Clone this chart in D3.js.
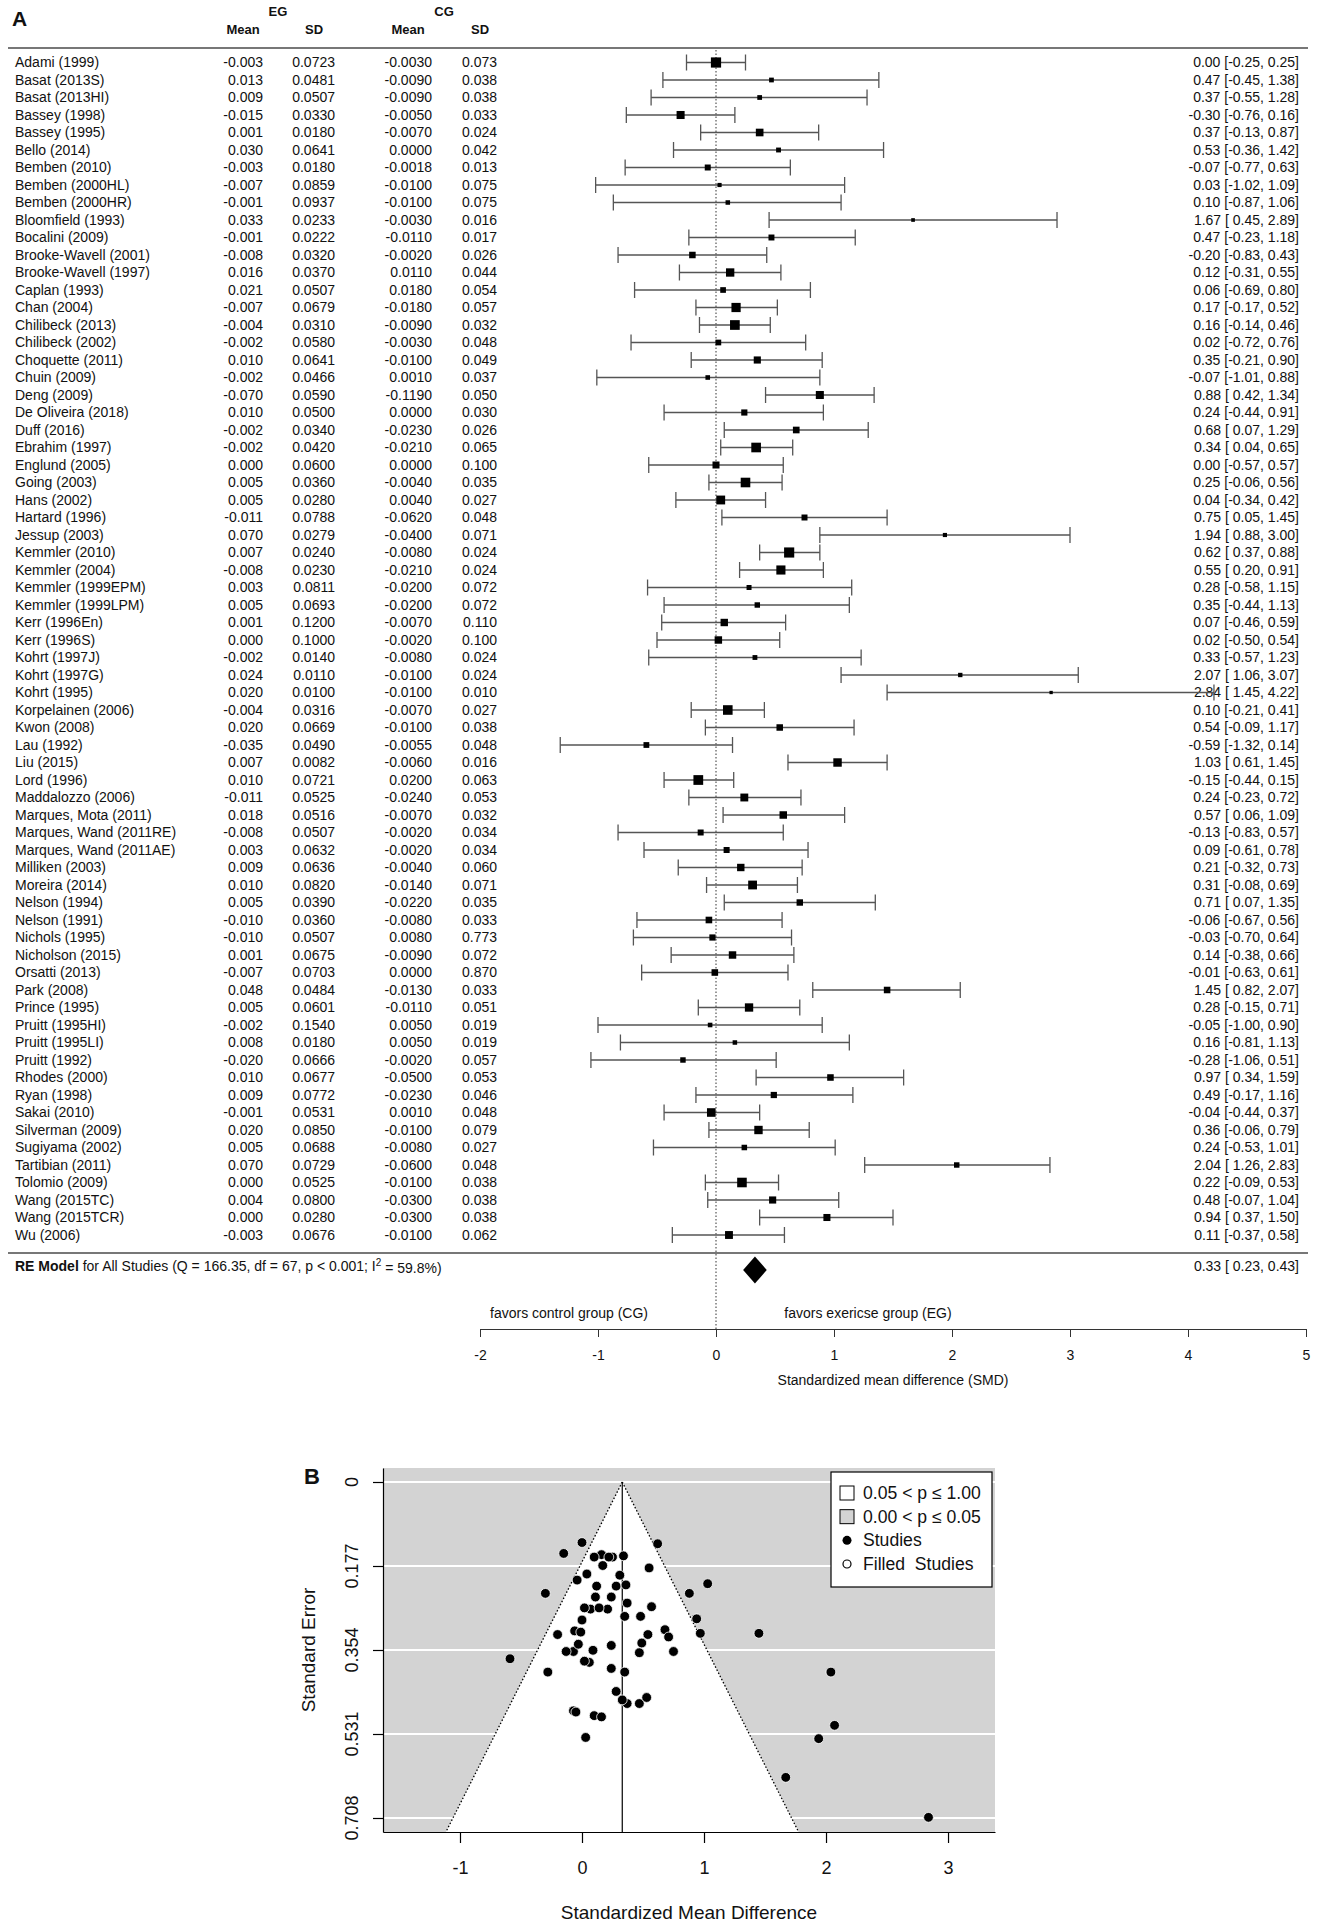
<!DOCTYPE html>
<html>
<head>
<meta charset="utf-8">
<script src="https://cdn.jsdelivr.net/npm/d3@7"></script>
<style>
	body { margin: 0; background: #fff; }
	text { font-family: "Liberation Sans", Arial, sans-serif; fill: #111; }
</style>
</head>
<body>
<div id="vis"></div>
<script>
const studies = [
	"Adami (1999)", "Basat (2013S)", "Basat (2013HI)", "Bassey (1998)", "Bassey (1995)",
	"Bello (2014)", "Bemben (2010)", "Bemben (2000HL)", "Bemben (2000HR)", "Bloomfield (1993)",
	"Bocalini (2009)", "Brooke-Wavell (2001)", "Brooke-Wavell (1997)", "Caplan (1993)", "Chan (2004)",
	"Chilibeck (2013)", "Chilibeck (2002)", "Choquette (2011)", "Chuin (2009)", "Deng (2009)",
	"De Oliveira (2018)", "Duff (2016)", "Ebrahim (1997)", "Englund (2005)", "Going (2003)",
	"Hans (2002)", "Hartard (1996)", "Jessup (2003)", "Kemmler (2010)", "Kemmler (2004)",
	"Kemmler (1999EPM)", "Kemmler (1999LPM)", "Kerr (1996En)", "Kerr (1996S)", "Kohrt (1997J)",
	"Kohrt (1997G)", "Kohrt (1995)", "Korpelainen (2006)", "Kwon (2008)", "Lau (1992)",
	"Liu (2015)", "Lord (1996)", "Maddalozzo (2006)", "Marques, Mota (2011)", "Marques, Wand (2011RE)",
	"Marques, Wand (2011AE)", "Milliken (2003)", "Moreira (2014)", "Nelson (1994)", "Nelson (1991)",
	"Nichols (1995)", "Nicholson (2015)", "Orsatti (2013)", "Park (2008)", "Prince (1995)",
	"Pruitt (1995HI)", "Pruitt (1995LI)", "Pruitt (1992)", "Rhodes (2000)", "Ryan (1998)",
	"Sakai (2010)", "Silverman (2009)", "Sugiyama (2002)", "Tartibian (2011)", "Tolomio (2009)",
	"Wang (2015TC)", "Wang (2015TCR)", "Wu (2006)"
];

const egMean = [
	-0.003, 0.013, 0.009, -0.015, 0.001, 0.030, -0.003, -0.007, -0.001, 0.033,
	-0.001, -0.008, 0.016, 0.021, -0.007, -0.004, -0.002, 0.010, -0.002, -0.070,
	0.010, -0.002, -0.002, 0.000, 0.005, 0.005, -0.011, 0.070, 0.007, -0.008,
	0.003, 0.005, 0.001, 0.000, -0.002, 0.024, 0.020, -0.004, 0.020, -0.035,
	0.007, 0.010, -0.011, 0.018, -0.008, 0.003, 0.009, 0.010, 0.005, -0.010,
	-0.010, 0.001, -0.007, 0.048, 0.005, -0.002, 0.008, -0.020, 0.010, 0.009,
	-0.001, 0.020, 0.005, 0.070, 0.000, 0.004, 0.000, -0.003
];
const egSD = [
	0.0723, 0.0481, 0.0507, 0.0330, 0.0180, 0.0641, 0.0180, 0.0859, 0.0937, 0.0233,
	0.0222, 0.0320, 0.0370, 0.0507, 0.0679, 0.0310, 0.0580, 0.0641, 0.0466, 0.0590,
	0.0500, 0.0340, 0.0420, 0.0600, 0.0360, 0.0280, 0.0788, 0.0279, 0.0240, 0.0230,
	0.0811, 0.0693, 0.1200, 0.1000, 0.0140, 0.0110, 0.0100, 0.0316, 0.0669, 0.0490,
	0.0082, 0.0721, 0.0525, 0.0516, 0.0507, 0.0632, 0.0636, 0.0820, 0.0390, 0.0360,
	0.0507, 0.0675, 0.0703, 0.0484, 0.0601, 0.1540, 0.0180, 0.0666, 0.0677, 0.0772,
	0.0531, 0.0850, 0.0688, 0.0729, 0.0525, 0.0800, 0.0280, 0.0676
];
const cgMean = [
	-0.0030, -0.0090, -0.0090, -0.0050, -0.0070, 0.0000, -0.0018, -0.0100, -0.0100, -0.0030,
	-0.0110, -0.0020, 0.0110, 0.0180, -0.0180, -0.0090, -0.0030, -0.0100, 0.0010, -0.1190,
	0.0000, -0.0230, -0.0210, 0.0000, -0.0040, 0.0040, -0.0620, -0.0400, -0.0080, -0.0210,
	-0.0200, -0.0200, -0.0070, -0.0020, -0.0080, -0.0100, -0.0100, -0.0070, -0.0100, -0.0055,
	-0.0060, 0.0200, -0.0240, -0.0070, -0.0020, -0.0020, -0.0040, -0.0140, -0.0220, -0.0080,
	0.0080, -0.0090, 0.0000, -0.0130, -0.0110, 0.0050, 0.0050, -0.0020, -0.0500, -0.0230,
	0.0010, -0.0100, -0.0080, -0.0600, -0.0100, -0.0300, -0.0300, -0.0100
];
const cgSD = [
	0.073, 0.038, 0.038, 0.033, 0.024, 0.042, 0.013, 0.075, 0.075, 0.016,
	0.017, 0.026, 0.044, 0.054, 0.057, 0.032, 0.048, 0.049, 0.037, 0.050,
	0.030, 0.026, 0.065, 0.100, 0.035, 0.027, 0.048, 0.071, 0.024, 0.024,
	0.072, 0.072, 0.110, 0.100, 0.024, 0.024, 0.010, 0.027, 0.038, 0.048,
	0.016, 0.063, 0.053, 0.032, 0.034, 0.034, 0.060, 0.071, 0.035, 0.033,
	0.773, 0.072, 0.870, 0.033, 0.051, 0.019, 0.019, 0.057, 0.053, 0.046,
	0.048, 0.079, 0.027, 0.048, 0.038, 0.038, 0.038, 0.062
];
const smd = [
	0.00, 0.47, 0.37, -0.30, 0.37, 0.53, -0.07, 0.03, 0.10, 1.67,
	0.47, -0.20, 0.12, 0.06, 0.17, 0.16, 0.02, 0.35, -0.07, 0.88,
	0.24, 0.68, 0.34, 0.00, 0.25, 0.04, 0.75, 1.94, 0.62, 0.55,
	0.28, 0.35, 0.07, 0.02, 0.33, 2.07, 2.84, 0.10, 0.54, -0.59,
	1.03, -0.15, 0.24, 0.57, -0.13, 0.09, 0.21, 0.31, 0.71, -0.06,
	-0.03, 0.14, -0.01, 1.45, 0.28, -0.05, 0.16, -0.28, 0.97, 0.49,
	-0.04, 0.36, 0.24, 2.04, 0.22, 0.48, 0.94, 0.11
];
const ciLower = [
	-0.25, -0.45, -0.55, -0.76, -0.13, -0.36, -0.77, -1.02, -0.87, 0.45,
	-0.23, -0.83, -0.31, -0.69, -0.17, -0.14, -0.72, -0.21, -1.01, 0.42,
	-0.44, 0.07, 0.04, -0.57, -0.06, -0.34, 0.05, 0.88, 0.37, 0.20,
	-0.58, -0.44, -0.46, -0.50, -0.57, 1.06, 1.45, -0.21, -0.09, -1.32,
	0.61, -0.44, -0.23, 0.06, -0.83, -0.61, -0.32, -0.08, 0.07, -0.67,
	-0.70, -0.38, -0.63, 0.82, -0.15, -1.00, -0.81, -1.06, 0.34, -0.17,
	-0.44, -0.06, -0.53, 1.26, -0.09, -0.07, 0.37, -0.37
];
const ciUpper = [
	0.25, 1.38, 1.28, 0.16, 0.87, 1.42, 0.63, 1.09, 1.06, 2.89,
	1.18, 0.43, 0.55, 0.80, 0.52, 0.46, 0.76, 0.90, 0.88, 1.34,
	0.91, 1.29, 0.65, 0.57, 0.56, 0.42, 1.45, 3.00, 0.88, 0.91,
	1.15, 1.13, 0.59, 0.54, 1.23, 3.07, 4.22, 0.41, 1.17, 0.14,
	1.45, 0.15, 0.72, 1.09, 0.57, 0.78, 0.73, 0.69, 1.35, 0.56,
	0.64, 0.66, 0.61, 2.07, 0.71, 0.90, 1.13, 0.51, 1.59, 1.16,
	0.37, 0.79, 1.01, 2.83, 0.53, 1.04, 1.50, 0.58
];

const pooledEst = 0.33;
const pooledCI = [0.23, 0.43];
const forestTicks = [-2, -1, 0, 1, 2, 3, 4, 5];
const seTicks = [0, 0.177, 0.354, 0.531, 0.708];
const seTickLabels = ["0", "0.177", "0.354", "0.531", "0.708"];
const funnelTicks = [-1, 0, 1, 2, 3];
const legendLabels = ["0.05 < p \u2264 1.00", "0.00 < p \u2264 0.05", "Studies", "Filled  Studies"];

const W = 1318, H = 1924;
const FONT = "14px";

const main = () => {
	const svg = d3.select("#vis").append("svg")
		.attr("width", W)
		.attr("height", H);
	svg.append("rect").attr("width", W).attr("height", H).attr("fill", "#fff");
	drawForest(svg);
	drawFunnel(svg);
};

const ciText = (e, lo, hi) => {
	const l = lo < 0 ? lo.toFixed(2) : " " + lo.toFixed(2);
	return `${e.toFixed(2)} [${l}, ${hi.toFixed(2)}]`;
};

const drawForest = (svg) => {
	const n = studies.length;
	const x = d3.scaleLinear().domain([-2, 5]).range([480, 1306]);
	const y = d3.scalePoint().domain(d3.range(n)).range([62.5, 1235]);

	// study weights (random effects) for square sizes
	const se = ciLower.map((lo, i) => (ciUpper[i] - lo) / (2 * 1.96));
	const wf = se.map(s => 1 / (s * s));
	const sw = d3.sum(wf);
	const ybar = d3.sum(wf.map((w, i) => w * smd[i])) / sw;
	const Q = d3.sum(wf.map((w, i) => w * (smd[i] - ybar) ** 2));
	const tau2 = Math.max(0, (Q - (n - 1)) / (sw - d3.sum(wf.map(w => w * w)) / sw));
	const wr = se.map(s => 1 / (s * s + tau2));
	const size = d3.scaleLinear().domain(d3.extent(wr)).range([3.3, 10.2]);

	svg.append("text")
		.attr("x", 12).attr("y", 26)
		.style("font-size", "21px").style("font-weight", "bold")
		.text("A");

	// column headers
	const hdr = svg.append("g").style("font-size", "13px").style("font-weight", "bold")
		.attr("text-anchor", "middle");
	hdr.append("text").attr("x", 278).attr("y", 16).text("EG");
	hdr.append("text").attr("x", 243).attr("y", 34).text("Mean");
	hdr.append("text").attr("x", 314).attr("y", 34).text("SD");
	hdr.append("text").attr("x", 444).attr("y", 16).text("CG");
	hdr.append("text").attr("x", 408).attr("y", 34).text("Mean");
	hdr.append("text").attr("x", 480).attr("y", 34).text("SD");

	svg.append("line")
		.attr("x1", 8).attr("x2", 1308).attr("y1", 48).attr("y2", 48)
		.attr("stroke", "#777").attr("stroke-width", 2);
	svg.append("line")
		.attr("x1", 8).attr("x2", 1308).attr("y1", 1253).attr("y2", 1253)
		.attr("stroke", "#777").attr("stroke-width", 2);

	// null line
	svg.append("line")
		.attr("x1", x(0)).attr("x2", x(0)).attr("y1", 50).attr("y2", 1329)
		.attr("stroke", "#333").attr("stroke-width", 1)
		.attr("stroke-dasharray", "1.5,2");

	const rows = svg.append("g").selectAll("g")
		.data(d3.range(n))
		.join("g")
		.attr("transform", i => `translate(0,${y(i)})`)
		.style("font-size", FONT);

	const cols = [
		{ vals: egMean, dp: 3, right: 263 },
		{ vals: egSD, dp: 4, right: 335 },
		{ vals: cgMean, dp: 4, right: 432 },
		{ vals: cgSD, dp: 3, right: 497 }
	];

	rows.append("text")
		.attr("x", 15).attr("dy", "0.35em")
		.text(i => studies[i]);
	cols.forEach(c => {
		rows.append("text")
			.attr("x", c.right).attr("dy", "0.35em")
			.attr("text-anchor", "end")
			.text(i => c.vals[i].toFixed(c.dp));
	});
	rows.append("text")
		.attr("x", 1299).attr("dy", "0.35em")
		.attr("text-anchor", "end")
		.style("white-space", "pre")
		.text(i => ciText(smd[i], ciLower[i], ciUpper[i]));

	// CI whiskers
	const ci = rows.append("g").attr("stroke", "#555").attr("stroke-width", 1.3);
	ci.append("line")
		.attr("x1", i => x(ciLower[i])).attr("x2", i => x(ciUpper[i]))
		.attr("y1", 0).attr("y2", 0);
	ci.append("line")
		.attr("x1", i => x(ciLower[i])).attr("x2", i => x(ciLower[i]))
		.attr("y1", -8).attr("y2", 8);
	ci.append("line")
		.attr("x1", i => x(ciUpper[i])).attr("x2", i => x(ciUpper[i]))
		.attr("y1", -8).attr("y2", 8);
	rows.append("rect")
		.attr("x", i => x(smd[i]) - size(wr[i]) / 2)
		.attr("y", i => -size(wr[i]) / 2)
		.attr("width", i => size(wr[i]))
		.attr("height", i => size(wr[i]))
		.attr("fill", "#000");

	// pooled estimate
	const py = 1270;
	svg.append("path")
		.attr("d", `M${x(pooledCI[0])},${py} L${x(pooledEst)},${py - 13.5} L${x(pooledCI[1])},${py} L${x(pooledEst)},${py + 13.5} Z`)
		.attr("fill", "#000");
	const re = svg.append("text")
		.attr("x", 15).attr("y", 1266).attr("dy", "0.35em")
		.style("font-size", FONT);
	re.append("tspan").style("font-weight", "bold").text("RE Model");
	re.append("tspan").text(" for All Studies (Q = 166.35, df = 67, p < 0.001; I");
	re.append("tspan").attr("dy", "-0.45em").style("font-size", "10px").text("2");
	re.append("tspan").attr("dy", "0.45em").text(" = 59.8%)");
	svg.append("text")
		.attr("x", 1299).attr("y", 1266).attr("dy", "0.35em")
		.attr("text-anchor", "end").style("font-size", FONT).style("white-space", "pre")
		.text(ciText(pooledEst, pooledCI[0], pooledCI[1]));

	svg.append("text")
		.attr("x", 569).attr("y", 1313).attr("dy", "0.35em")
		.attr("text-anchor", "middle").style("font-size", FONT)
		.text("favors control group (CG)");
	svg.append("text")
		.attr("x", 868).attr("y", 1313).attr("dy", "0.35em")
		.attr("text-anchor", "middle").style("font-size", FONT)
		.text("favors exericse group (EG)");

	const ax = svg.append("g")
		.attr("transform", "translate(0,1329)")
		.call(d3.axisBottom(x).tickValues(forestTicks).tickSize(8).tickSizeOuter(0)
			.tickFormat(d => String(d)));
	ax.selectAll("path, line").attr("stroke", "#333");
	ax.selectAll("text")
		.attr("y", 26).attr("dy", "0.35em")
		.style("font-size", FONT).style("font-family", "Liberation Sans, Arial, sans-serif")
		.attr("fill", "#111");
	svg.append("text")
		.attr("x", 893).attr("y", 1380).attr("dy", "0.35em")
		.attr("text-anchor", "middle").style("font-size", FONT)
		.text("Standardized mean difference (SMD)");
};

const drawFunnel = (svg) => {
	const fx = d3.scaleLinear().domain([-1.631, 3.385]).range([383, 995]);
	const fy = d3.scaleLinear().domain([-0.0295, 0.7375]).range([1468, 1832]);
	const seBottom = fy.domain()[1];
	const se = ciLower.map((lo, i) => (ciUpper[i] - lo) / (2 * 1.96));

	svg.append("text")
		.attr("x", 312).attr("y", 1476).attr("dy", "0.35em")
		.attr("text-anchor", "middle")
		.style("font-size", "22px").style("font-weight", "bold")
		.text("B");

	const g = svg.append("g");
	g.append("rect")
		.attr("x", fx.range()[0]).attr("y", fy.range()[0])
		.attr("width", fx.range()[1] - fx.range()[0])
		.attr("height", fy.range()[1] - fy.range()[0])
		.attr("fill", "#d3d3d3");
	g.selectAll(".grid")
		.data(seTicks)
		.join("line")
		.attr("x1", fx.range()[0]).attr("x2", fx.range()[1])
		.attr("y1", d => fy(d)).attr("y2", d => fy(d))
		.attr("stroke", "#fff").attr("stroke-width", 2);

	const tri = [
		[pooledEst, 0],
		[pooledEst - 1.96 * seBottom, seBottom],
		[pooledEst + 1.96 * seBottom, seBottom]
	];
	g.append("path")
		.attr("d", d3.line().x(d => fx(d[0])).y(d => fy(d[1]))(tri) + "Z")
		.attr("fill", "#fff");
	[tri[1], tri[2]].forEach(p => {
		g.append("line")
			.attr("x1", fx(tri[0][0])).attr("y1", fy(0))
			.attr("x2", fx(p[0])).attr("y2", fy(p[1]))
			.attr("stroke", "#000").attr("stroke-width", 1.3)
			.attr("stroke-dasharray", "1.5,2");
	});
	g.append("line")
		.attr("x1", fx(pooledEst)).attr("x2", fx(pooledEst))
		.attr("y1", fy(0)).attr("y2", fy(seBottom))
		.attr("stroke", "#000").attr("stroke-width", 1.2);

	g.selectAll("circle.study")
		.data(d3.range(smd.length))
		.join("circle")
		.attr("class", "study")
		.attr("cx", i => fx(smd[i]))
		.attr("cy", i => fy(se[i]))
		.attr("r", 4.9)
		.attr("fill", "#000")
		.attr("stroke", "#fff").attr("stroke-width", 0.8);

	// axes (L shaped box)
	const xa = svg.append("g")
		.attr("transform", `translate(0,${fy.range()[1]})`)
		.call(d3.axisBottom(fx).tickValues(funnelTicks).tickSize(11).tickSizeOuter(0)
			.tickFormat(d => String(d)));
	xa.selectAll("path, line").attr("stroke", "#000").attr("stroke-width", 1.2);
	xa.selectAll("text")
		.attr("y", 36).attr("dy", "0.35em")
		.style("font-size", "18px").style("font-family", "Liberation Sans, Arial, sans-serif")
		.attr("fill", "#111");

	const ya = svg.append("g")
		.attr("transform", `translate(${fx.range()[0]},0)`)
		.call(d3.axisLeft(fy).tickValues(seTicks).tickSize(10).tickSizeOuter(0));
	ya.selectAll("path, line").attr("stroke", "#000").attr("stroke-width", 1.2);
	ya.selectAll("text").remove();
	svg.append("g").selectAll("text")
		.data(seTicks)
		.join("text")
		.attr("transform", (d) => `translate(352,${fy(d)}) rotate(-90)`)
		.attr("text-anchor", "middle").attr("dy", "0.35em")
		.style("font-size", "18px")
		.text((d, i) => seTickLabels[i]);

	svg.append("text")
		.attr("transform", "translate(308,1650) rotate(-90)")
		.attr("text-anchor", "middle").attr("dy", "0.35em")
		.style("font-size", "19px")
		.text("Standard Error");
	svg.append("text")
		.attr("x", 689).attr("y", 1912).attr("dy", "0.35em")
		.attr("text-anchor", "middle")
		.style("font-size", "19px")
		.text("Standardized Mean Difference");

	// legend
	const lg = svg.append("g");
	lg.append("rect")
		.attr("x", 831).attr("y", 1472).attr("width", 161).attr("height", 115)
		.attr("fill", "#fff").attr("stroke", "#000").attr("stroke-width", 1.2);
	const ly = d3.scalePoint().domain(d3.range(legendLabels.length)).range([1493, 1564]);
	lg.selectAll("text")
		.data(legendLabels)
		.join("text")
		.attr("x", 863).attr("y", (d, i) => ly(i)).attr("dy", "0.35em")
		.style("font-size", "17.6px").style("white-space", "pre")
		.text(d => d);
	lg.append("rect")
		.attr("x", 840).attr("y", ly(0) - 7).attr("width", 14).attr("height", 14)
		.attr("fill", "#fff").attr("stroke", "#000");
	lg.append("rect")
		.attr("x", 840).attr("y", ly(1) - 7).attr("width", 14).attr("height", 14)
		.attr("fill", "#d3d3d3").attr("stroke", "#000");
	lg.append("circle")
		.attr("cx", 847).attr("cy", ly(2)).attr("r", 4.5).attr("fill", "#000");
	lg.append("circle")
		.attr("cx", 847).attr("cy", ly(3)).attr("r", 4).attr("fill", "#fff")
		.attr("stroke", "#000").attr("stroke-width", 1.2);
};

main();
</script>
</body>
</html>
